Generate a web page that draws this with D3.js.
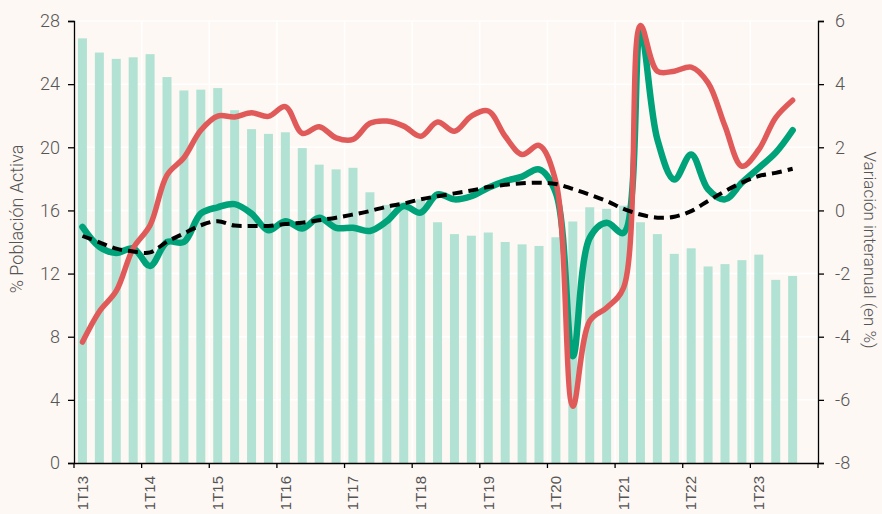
<!DOCTYPE html>
<html>
<head>
<meta charset="utf-8">
<script src="https://cdn.jsdelivr.net/npm/d3@7"></script>
<style>
body { margin: 0; background: #fdf8f4; }
svg { display: block; font-family: Roboto, sans-serif; }
</style>
</head>
<body>
<div id="chart"></div>
<script>
// quarters from 1T13 to 4T23 (last quarter has no data)
var quarters = ["1T13","2T13","3T13","4T13","1T14","2T14","3T14","4T14",
	"1T15","2T15","3T15","4T15","1T16","2T16","3T16","4T16",
	"1T17","2T17","3T17","4T17","1T18","2T18","3T18","4T18",
	"1T19","2T19","3T19","4T19","1T20","2T20","3T20","4T20",
	"1T21","2T21","3T21","4T21","1T22","2T22","3T22","4T22",
	"1T23","2T23","3T23","4T23"];

var yearTicks = ["1T13","1T14","1T15","1T16","1T17","1T18","1T19","1T20","1T21","1T22","1T23"];

// bars: % poblacion activa (left axis)
var paroRate = [26.9, 26.0, 25.6, 25.7, 25.9, 24.45, 23.6, 23.65, 23.75, 22.35,
	21.15, 20.85, 20.95, 19.95, 18.9, 18.6, 18.7, 17.15, 16.35, 16.5,
	16.7, 15.25, 14.5, 14.4, 14.6, 14.0, 13.85, 13.75, 14.3, 15.3,
	16.2, 16.1, 16.3, 15.25, 14.5, 13.25, 13.6, 12.45, 12.6, 12.85,
	13.2, 11.6, 11.85];

// lines: variacion interanual (right axis)
var redSeries = [-4.17, -3.2, -2.55, -1.2, -0.47, 1.12, 1.67, 2.54, 2.99, 2.96,
	3.09, 2.98, 3.29, 2.44, 2.65, 2.3, 2.25, 2.76, 2.83, 2.67,
	2.35, 2.8, 2.51, 2.99, 3.15, 2.35, 1.77, 2.06, 0.9, -6.2,
	-3.5, -3.08, -2.45, 5.86, 4.41, 4.41, 4.54, 4.04, 2.67, 1.4,
	1.93, 2.94, 3.49];

var greenSeries = [-0.52, -1.15, -1.35, -1.2, -1.76, -1.0, -1.0, -0.1, 0.1, 0.2,
	-0.1, -0.63, -0.34, -0.57, -0.23, -0.55, -0.55, -0.65, -0.34, 0.14,
	-0.07, 0.51, 0.35, 0.45, 0.72, 0.93, 1.07, 1.3, 0.55, -4.62,
	-0.87, -0.39, -0.71, 5.68, 2.25, 0.98, 1.77, 0.67, 0.35, 0.88,
	1.35, 1.83, 2.54];

var blackSeries = [-0.81, -1.01, -1.21, -1.3, -1.33, -0.99, -0.73, -0.47, -0.34, -0.48,
	-0.49, -0.49, -0.43, -0.39, -0.31, -0.23, -0.13, -0.02, 0.12, 0.22,
	0.35, 0.45, 0.54, 0.63, 0.74, 0.81, 0.86, 0.88, 0.84, 0.68,
	0.5, 0.3, 0.05, -0.13, -0.23, -0.2, -0.02, 0.3, 0.61, 0.88,
	1.09, 1.19, 1.32];

var leftTicks = [0, 4, 8, 12, 16, 20, 24, 28];
var rightTicks = [-8, -6, -4, -2, 0, 2, 4, 6];

var margin = { top : 21, right : 64, bottom : 51, left : 74 },
	width = 882 - margin.left - margin.right,
	height = 514 - margin.top - margin.bottom;

var svg = d3.select("#chart").append("svg")
	.attr("width", 882).attr("height", 514);

svg.append("rect").attr("width", 882).attr("height", 514).attr("fill", "#fdf8f4");

var g = svg.append("g")
	.attr("transform", "translate(" + margin.left + "," + margin.top + ")");

var xStep = d3.scaleBand().domain(quarters).range([ 0, width ]);
var yLeft = d3.scaleLinear().domain([ 0, 28 ]).range([ height, 0 ]);
var yRight = d3.scaleLinear().domain([ -8, 6 ]).range([ height, 0 ]);

// grid
g.selectAll(".hgrid").data(leftTicks.slice(1)).enter().append("line")
	.attr("x1", 0).attr("x2", width)
	.attr("y1", function(d) { return yLeft(d); })
	.attr("y2", function(d) { return yLeft(d); })
	.attr("stroke", "#ffffff").attr("stroke-width", 1.5);

g.selectAll(".vgrid").data(yearTicks.slice(1)).enter().append("line")
	.attr("x1", function(d) { return xStep(d); })
	.attr("x2", function(d) { return xStep(d); })
	.attr("y1", 0).attr("y2", height)
	.attr("stroke", "#ffffff").attr("stroke-width", 1.5);

// bars
g.selectAll(".bar").data(paroRate).enter().append("rect")
	.attr("x", function(d, i) { return xStep(quarters[i]) + (xStep.bandwidth() - 9) / 2; })
	.attr("width", 9)
	.attr("y", function(d) { return yLeft(d); })
	.attr("height", function(d) { return height - yLeft(d); })
	.attr("fill", "#b2e2d3");

function lineFor(values) {
	return d3.line()
		.x(function(d, i) { return xStep(quarters[i]) + xStep.bandwidth() / 2; })
		.y(function(d) { return yRight(d); })
		.curve(d3.curveCatmullRom.alpha(0.5))(values);
}

g.append("path").attr("d", lineFor(greenSeries))
	.attr("fill", "none").attr("stroke", "#00a27a").attr("stroke-width", 6.5)
	.attr("stroke-linejoin", "round").attr("stroke-linecap", "round");

g.append("path").attr("d", lineFor(redSeries))
	.attr("fill", "none").attr("stroke", "#e05a5a").attr("stroke-width", 5.5)
	.attr("stroke-linejoin", "round").attr("stroke-linecap", "round");

g.append("path").attr("d", lineFor(blackSeries))
	.attr("fill", "none").attr("stroke", "#000000").attr("stroke-width", 4)
	.attr("stroke-dasharray", "10,6");

// axes
var textColor = "#555555";

var leftAxis = g.append("g").call(d3.axisLeft(yLeft).tickValues(leftTicks).tickSize(6).tickPadding(8));
var rightAxis = g.append("g").attr("transform", "translate(" + width + ",0)")
	.call(d3.axisRight(yRight).tickValues(rightTicks).tickSize(6).tickPadding(11)
		.tickFormat(function(d) { return d; }));

var bottomAxis = g.append("g").attr("transform", "translate(0," + height + ")")
	.call(d3.axisBottom(xStep).tickValues([]).tickSize(0));

bottomAxis.selectAll(".tickmark").data(yearTicks.concat(["end"])).enter().append("line")
	.attr("x1", function(d) { return d == "end" ? width : xStep(d); })
	.attr("x2", function(d) { return d == "end" ? width : xStep(d); })
	.attr("y1", 0).attr("y2", 5)
	.attr("stroke", "#000000").attr("stroke-width", 1.3);

bottomAxis.selectAll(".ticklabel").data(yearTicks).enter().append("text")
	.attr("transform", function(d) {
		return "translate(" + (xStep(d) + xStep.bandwidth() / 2) + ",13) rotate(-90)";
	})
	.attr("dy", "0.35em")
	.attr("text-anchor", "end")
	.attr("fill", textColor)
	.style("font-size", "15px").style("font-weight", 300)
	.text(function(d) { return d; });

[leftAxis, rightAxis, bottomAxis].forEach(function(a) {
	a.select(".domain").attr("stroke", "#000000").attr("stroke-width", 1.3);
	a.selectAll(".tick line").attr("stroke", "#000000").attr("stroke-width", 1.3);
	a.selectAll(".tick text").attr("fill", textColor)
		.style("font-size", "18px").style("font-weight", 300)
		.style("font-family", "Roboto, sans-serif");
});

// axis titles
svg.append("text")
	.attr("transform", "translate(17,219) rotate(-90)")
	.attr("dy", "0.35em")
	.attr("text-anchor", "middle")
	.attr("fill", textColor)
	.style("font-size", "18px").style("font-weight", 300)
	.text("% Población Activa");

svg.append("text")
	.attr("transform", "translate(870,250) rotate(90)")
	.attr("dy", "0.35em")
	.attr("text-anchor", "middle")
	.attr("fill", textColor)
	.style("font-size", "17px").style("font-weight", 300)
	.text("Variación interanual (en %)");
</script>
</body>
</html>
